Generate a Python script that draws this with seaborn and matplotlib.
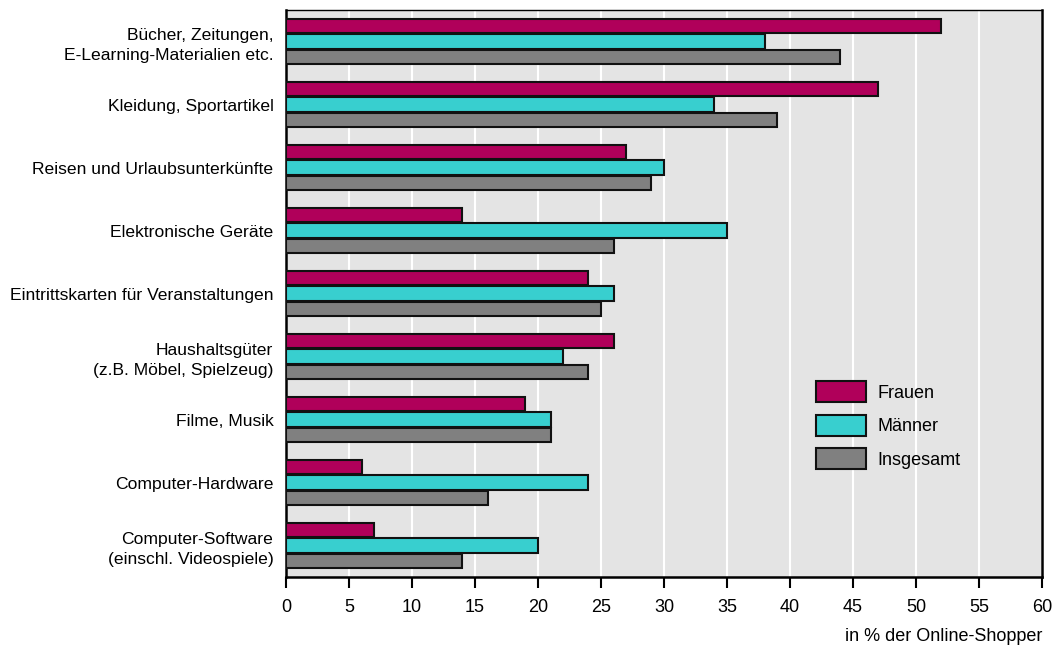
import numpy as np
import pandas as pd
import matplotlib
matplotlib.use("Agg")
import matplotlib.pyplot as plt
import seaborn as sns

# Werte (in % der Online-Shopper)
kategorien = [
    "Bücher, Zeitungen,\nE-Learning-Materialien etc.",
    "Kleidung, Sportartikel",
    "Reisen und Urlaubsunterkünfte",
    "Elektronische Geräte",
    "Eintrittskarten für Veranstaltungen",
    "Haushaltsgüter\n(z.B. Möbel, Spielzeug)",
    "Filme, Musik",
    "Computer-Hardware",
    "Computer-Software\n(einschl. Videospiele)",
]
frauen = [52, 47, 27, 14, 24, 26, 19, 6, 7]
maenner = [38, 34, 30, 35, 26, 22, 21, 24, 20]
insgesamt = [44, 39, 29, 26, 25, 24, 21, 16, 14]
gruppen = ["Frauen", "Männer", "Insgesamt"]
farben = ["#B0005A", "#38CFCF", "#808080"]

df = pd.DataFrame({"Kategorie": kategorien, "Frauen": frauen,
                   "Männer": maenner, "Insgesamt": insgesamt})
df = df.melt(id_vars="Kategorie", var_name="Gruppe", value_name="Wert")

sns.set_style("white")
plt.rcParams["font.family"] = ["Liberation Sans", "DejaVu Sans"]
plt.rcParams["text.color"] = "black"
plt.rcParams["xtick.color"] = "black"
plt.rcParams["ytick.color"] = "black"

fig = plt.figure(figsize=(10.53, 6.46), dpi=100)
ax = fig.add_axes([0.2716, 0.1068, 0.7179, 0.8777])
ax.set_facecolor("#E4E4E4")

sns.barplot(data=df, x="Wert", y="Kategorie", hue="Gruppe", hue_order=gruppen,
            palette=farben, orient="h", width=0.72, gap=0.06, saturation=1,
            edgecolor="#111111", linewidth=1.5, ax=ax, zorder=3)

ax.set_xlim(0, 60)
ax.set_ylim(8.5, -0.5)
ax.set_xticks(np.arange(0, 61, 5))
ax.xaxis.grid(True, color="white", linewidth=1.5, zorder=0)
ax.set_axisbelow(True)
ax.tick_params(axis="x", bottom=True, direction="out", length=8, width=1.5,
               labelsize=13, color="black", labelcolor="black", pad=8)
ax.tick_params(axis="y", left=False, length=0, labelsize=12.6, pad=9, labelcolor="black")
for lbl in ax.get_yticklabels():
    lbl.set_horizontalalignment("right")
    lbl.set_multialignment("right")
    lbl.set_linespacing(1.45)
ax.set_ylabel("")
ax.set_xlabel("in % der Online-Shopper", fontsize=13, color="black")
ax.xaxis.set_label_coords(1.0, -0.09)
ax.xaxis.label.set_horizontalalignment("right")
ax.xaxis.label.set_verticalalignment("top")

for s in ["bottom", "right", "left"]:
    ax.spines[s].set_color("black")
    ax.spines[s].set_linewidth(1.8)
ax.spines["top"].set_color("black")
ax.spines["top"].set_linewidth(1)

leg = ax.legend(loc="upper left", bbox_to_anchor=(0.701, 0.345), frameon=False,
                fontsize=13, handlelength=2.77, handleheight=1.4, labelspacing=0.7,
                handletextpad=0.66, borderpad=0, borderaxespad=0)

fig.savefig("out.png", dpi=100)
